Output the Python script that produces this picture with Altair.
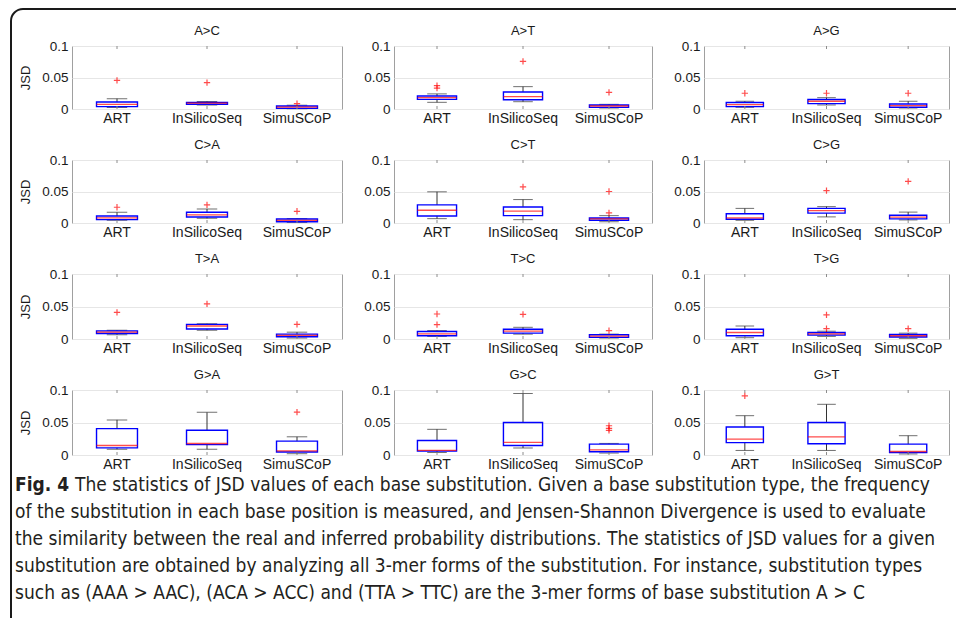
import altair as alt
import pandas as pd

TOOLS = ["ART", "InSilicoSeq", "SimuSCoP"]
SUBS = ["A>C", "A>T", "A>G", "C>A", "C>T", "C>G",
        "T>A", "T>C", "T>G", "G>A", "G>C", "G>T"]

WHISKER_LOW = [
    [0.0025, 0.0065, 0.0005],
    [0.0106, 0.0116, 0.0016],
    [0.0027, 0.0064, 0.0016],
    [0.0043, 0.0074, 0.0010],
    [0.0069, 0.0053, 0.0020],
    [0.0043, 0.0097, 0.0049],
    [0.0065, 0.0135, 0.0015],
    [0.0040, 0.0075, 0.0015],
    [0.0020, 0.0040, 0.0010],
    [0.0089, 0.0089, 0.0020],
    [0.0038, 0.0108, 0.0030],
    [0.0070, 0.0070, 0.0016],
]
Q1 = [
    [0.0037, 0.0075, 0.0010],
    [0.0153, 0.0148, 0.0026],
    [0.0037, 0.0086, 0.0027],
    [0.0053, 0.0096, 0.0021],
    [0.0112, 0.0117, 0.0043],
    [0.0059, 0.0157, 0.0065],
    [0.0085, 0.0155, 0.0035],
    [0.0050, 0.0090, 0.0025],
    [0.0050, 0.0060, 0.0030],
    [0.0110, 0.0160, 0.0047],
    [0.0059, 0.0146, 0.0049],
    [0.0190, 0.0173, 0.0038],
]
MEDIAN = [
    [0.0072, 0.0092, 0.0030],
    [0.0180, 0.0196, 0.0048],
    [0.0070, 0.0123, 0.0053],
    [0.0080, 0.0128, 0.0043],
    [0.0202, 0.0190, 0.0064],
    [0.0080, 0.0195, 0.0092],
    [0.0105, 0.0200, 0.0055],
    [0.0080, 0.0120, 0.0045],
    [0.0100, 0.0080, 0.0050],
    [0.0146, 0.0177, 0.0062],
    [0.0070, 0.0195, 0.0080],
    [0.0243, 0.0280, 0.0054],
]
Q3 = [
    [0.0110, 0.0105, 0.0048],
    [0.0206, 0.0270, 0.0063],
    [0.0102, 0.0150, 0.0080],
    [0.0110, 0.0170, 0.0064],
    [0.0287, 0.0255, 0.0080],
    [0.0146, 0.0232, 0.0124],
    [0.0125, 0.0225, 0.0075],
    [0.0115, 0.0150, 0.0065],
    [0.0150, 0.0100, 0.0070],
    [0.0406, 0.0380, 0.0214],
    [0.0222, 0.0500, 0.0168],
    [0.0430, 0.0500, 0.0168],
]
WHISKER_HIGH = [
    [0.0164, 0.0120, 0.0060],
    [0.0240, 0.0355, 0.0074],
    [0.0123, 0.0180, 0.0123],
    [0.0170, 0.0223, 0.0070],
    [0.0495, 0.0372, 0.0117],
    [0.0232, 0.0260, 0.0173],
    [0.0135, 0.0235, 0.0105],
    [0.0130, 0.0180, 0.0075],
    [0.0200, 0.0120, 0.0090],
    [0.0540, 0.0656, 0.0280],
    [0.0395, 0.0946, 0.0178],
    [0.0605, 0.0780, 0.0297],
]
OUTLIERS = [
    [[0.0455], [0.0420], [0.0085]],
    [[0.0370, 0.0330], [0.0757], [0.0265]],
    [[0.0250], [0.0250], [0.0250]],
    [[0.0250], [0.0287], [0.0186]],
    [[], [0.0574], [0.0500, 0.0160]],
    [[], [0.0514], [0.0660]],
    [[0.0410], [0.0540], [0.0225]],
    [[0.0385, 0.0220], [0.0380], [0.0130]],
    [[], [0.0370, 0.0160], [0.0160]],
    [[], [], [0.0660]],
    [[], [], [0.0450, 0.0410, 0.0380]],
    [[0.0910], [], []],
]
Y_TICKS = [0, 0.05, 0.1]

CAPTION_BOLD = "Fig. 4"
CAPTION_LINES = [
    "The statistics of JSD values of each base substitution. Given a base substitution type, the frequency",
    "of the substitution in each base position is measured, and Jensen-Shannon Divergence is used to evaluate",
    "the similarity between the real and inferred probability distributions. The statistics of JSD values for a given",
    "substitution are obtained by analyzing all 3-mer forms of the substitution. For instance, substitution types",
    "such as (AAA > AAC), (ACA > ACC) and (TTA > TTC) are the 3-mer forms of base substitution A > C",
]

COL_W = [270, 258, 245]
ROW_H = [63, 63, 65, 65]
FONT = "Liberation Sans"
CAP_FONT = "Liberation Sans Narrow, DejaVu Sans Condensed, Roboto Condensed, sans-serif"
CAP_SIZE = 19
PLUS = "M-1,0L1,0M0,-1L0,1"
INK = "#1a1a1a"


def panel(i):
    r, c = divmod(i, 3)
    W, H = COL_W[c], ROW_H[r]
    bw = W / 3 * 0.455
    box = pd.DataFrame({
        "tool": TOOLS, "lo": WHISKER_LOW[i], "q1": Q1[i], "med": MEDIAN[i],
        "q3": Q3[i], "hi": WHISKER_HIGH[i],
    })
    out = pd.DataFrame(
        [{"tool": t, "v": v} for t, vs in zip(TOOLS, OUTLIERS[i]) for v in vs],
        columns=["tool", "v"],
    )
    xs = alt.Scale(domain=TOOLS, paddingInner=0.545, paddingOuter=0.2725)
    ys = alt.Scale(domain=[0, 0.1], nice=False)
    xax = alt.Axis(title=None, labelAngle=0, domain=False, ticks=False,
                   grid=False, labelPadding=2, labelFontSize=14)
    yax_kw = dict(values=Y_TICKS, tickCount=5, format="~g", domain=False,
                  ticks=False, grid=True, labelPadding=4, labelOverlap=False,
                  labelFontSize=13.5)
    if c == 0:
        yax_kw.update(title="JSD", titlePadding=9)
    else:
        yax_kw.update(title=None)
    yax = alt.Axis(**yax_kw)

    def X():
        return alt.X("tool:N", sort=TOOLS, scale=xs, axis=xax)

    def Y(f):
        return alt.Y(f, scale=ys, axis=yax)

    base = alt.Chart(box)
    wlo = base.mark_rule(color="#333333", strokeWidth=1).encode(
        x=X(), y=Y("lo:Q"), y2="q1:Q")
    whi = base.mark_rule(color="#333333", strokeWidth=1).encode(
        x=X(), y=Y("q3:Q"), y2="hi:Q")
    cap_lo = base.mark_tick(orient="horizontal", size=bw * 0.5, thickness=1,
                            color="#333333").encode(x=X(), y=Y("lo:Q"))
    cap_hi = base.mark_tick(orient="horizontal", size=bw * 0.5, thickness=1,
                            color="#333333").encode(x=X(), y=Y("hi:Q"))
    boxes = base.mark_bar(fillOpacity=0, stroke="#0000ff", strokeWidth=1.4).encode(
        x=X(), y=Y("q1:Q"), y2="q3:Q")
    med = base.mark_tick(orient="horizontal", size=bw, thickness=1.3,
                         color="#ff0000").encode(x=X(), y=Y("med:Q"))
    pts = alt.Chart(out).mark_point(shape=PLUS, filled=False, color="#ff0000",
                                    size=40, strokeWidth=1.2).encode(
        x=X(), y=Y("v:Q"))
    tb = base.mark_rule(color="#8c8c8c").encode(
        x=X(), y=alt.value(H), y2=alt.value(H - 3))
    tt = base.mark_rule(color="#8c8c8c").encode(
        x=X(), y=alt.value(0), y2=alt.value(3))
    return alt.layer(wlo, whi, cap_lo, cap_hi, boxes, med, pts, tb, tt).properties(
        width=W, height=H,
        title=alt.TitleParams(SUBS[i], fontSize=13, fontWeight="normal",
                              font=FONT, color=INK, offset=1),
    )


panels = [panel(i) for i in range(12)]

one = pd.DataFrame({"k": [0]})
frame_top = alt.Chart(one).mark_rule(color=INK, strokeWidth=2).encode(
    x=alt.value(-49), x2=alt.value(884), y=alt.value(-497))
frame_left = alt.Chart(one).mark_rule(color=INK, strokeWidth=2).encode(
    x=alt.value(-61), y=alt.value(-485), y2=alt.value(112))
corner = alt.Chart(one).mark_arc(radius=13, radius2=11, theta=4.712389,
                                 theta2=6.283185, color=INK).encode(
    x=alt.value(-49), y=alt.value(-485))

cap_y = alt.Scale(domain=[0, 4], range=[-21, 87])
fig_df = pd.DataFrame({"line": [0], "text": [CAPTION_BOLD]})
first_df = pd.DataFrame({"line": [0], "text": [CAPTION_LINES[0]]})
rest_df = pd.DataFrame({"line": list(range(1, 5)), "text": CAPTION_LINES[1:]})

fig_txt = alt.Chart(fig_df).mark_text(
    align="left", baseline="middle", font=CAP_FONT, fontSize=CAP_SIZE,
    fontWeight="bold", color="#231f20").encode(
    x=alt.value(-57), y=alt.Y("line:Q", scale=cap_y, axis=None), text="text:N")
first_txt = alt.Chart(first_df).mark_text(
    align="left", baseline="middle", font=CAP_FONT, fontSize=CAP_SIZE,
    color="#231f20").encode(
    x=alt.value(3), y=alt.Y("line:Q", scale=cap_y, axis=None), text="text:N")
rest_txt = alt.Chart(rest_df).mark_text(
    align="left", baseline="middle", font=CAP_FONT, fontSize=CAP_SIZE,
    color="#231f20").encode(
    x=alt.value(-57), y=alt.Y("line:Q", scale=cap_y, axis=None), text="text:N")

caption = alt.layer(frame_top, frame_left, corner, fig_txt, first_txt, rest_txt).properties(
    width=270, height=112, view=alt.ViewBackground(strokeOpacity=0))

chart = alt.concat(
    *panels, caption, columns=3, spacing={"row": 51, "column": 52},
    bounds="flush", align="each",
).properties(
    padding={"left": 10, "top": 8, "right": 0, "bottom": 0},
    background="white",
).configure_axis(
    labelFont=FONT, titleFont=FONT, labelFontSize=13, titleFontSize=13,
    titleFontWeight="normal", labelColor=INK, titleColor=INK,
    gridColor="#e6e6e6",
).configure_view(stroke="#a0a0a0", strokeWidth=1)

chart.save("out.html", embed_options={"renderer": "svg", "actions": False})
